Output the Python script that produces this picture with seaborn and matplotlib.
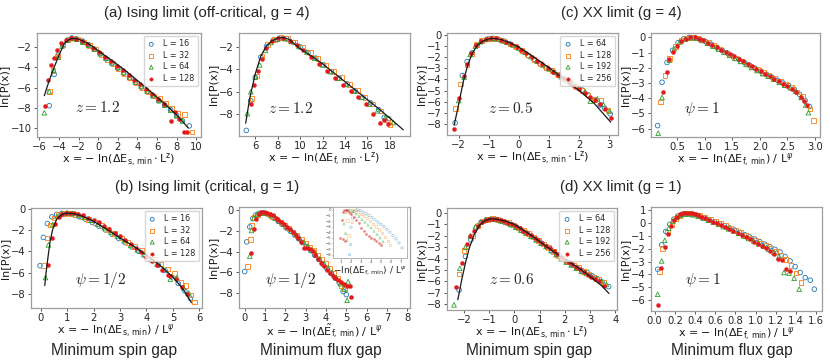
# Distribuciones escaladas ln[P(x)] del gap mínimo (espín y flujo)
# Límite Ising y límite XX, fuera y en el punto crítico.

import numpy as np
import pandas as pd
import matplotlib
matplotlib.use('Agg')
import matplotlib.pyplot as plt
import seaborn as sns


# --- Datos ---
tam_ising = ['16', '32', '64', '128']
tam_xx = ['64', '128', '192', '256']

# (a) Ising, g = 4, gap de espín
a1_x16 = [-5.0, -4.5, -4.1, -3.6, -3.1, -2.7, -2.2, -1.6, -1.0, -0.4, 0.2, 0.8, 1.4, 2.0, 2.6, 3.2, 3.8, 4.4, 5.0, 5.6, 6.2, 6.8, 7.4, 8.0, 8.6, 9.3]
a1_y16 = [-7.8, -4.7, -2.8, -1.8, -1.3, -1.1, -1.2, -1.4, -1.75, -2.2, -2.65, -3.15, -3.6, -4.1, -4.6, -5.1, -5.5, -5.95, -6.4, -6.85, -7.3, -7.75, -8.2, -8.75, -9.3, -9.8]
a1_x32 = [-5.0, -4.6, -4.1, -3.6, -3.1, -2.6, -2.1, -1.5, -0.9, -0.3, 0.3, 0.9, 1.5, 2.1, 2.7, 3.3, 3.9, 4.5, 5.1, 5.7, 6.3, 6.9, 7.5, 8.1, 8.8, 9.6]
a1_y32 = [-6.4, -4.3, -2.9, -1.8, -1.3, -1.1, -1.2, -1.5, -1.85, -2.2, -2.7, -3.2, -3.65, -4.1, -4.6, -5.05, -5.55, -6.0, -6.45, -6.85, -7.1, -7.6, -8.1, -8.6, -8.7, -10.4]
a1_x64 = [-5.5, -5.0, -4.55, -4.1, -3.7, -3.2, -2.7, -2.2, -1.6, -1.0, -0.4, 0.2, 0.8, 1.4, 2.0, 2.6, 3.2, 3.8, 4.4, 5.0, 5.6, 6.2, 6.8, 7.4, 8.0, 8.6]
a1_y64 = [-8.5, -6.4, -4.3, -3.0, -1.9, -1.3, -1.15, -1.2, -1.5, -1.8, -2.2, -2.65, -3.1, -3.55, -4.0, -4.5, -4.95, -5.45, -5.9, -6.35, -6.8, -7.3, -7.75, -8.25, -8.8, -9.3]
a1_x128 = [-5.45, -5.1, -4.8, -4.5, -4.2, -3.8, -3.3, -2.8, -2.3, -1.7, -1.1, -0.5, 0.1, 0.7, 1.3, 1.9, 2.5, 3.1, 3.7, 4.3, 4.9, 5.5, 6.1, 6.7, 7.45, 7.8, 8.3, 8.8, 9.1]
a1_y128 = [-7.8, -5.3, -3.8, -3.1, -2.3, -1.6, -1.25, -1.1, -1.15, -1.4, -1.7, -2.05, -2.5, -2.95, -3.4, -3.85, -4.3, -4.75, -5.25, -5.7, -6.15, -6.65, -7.15, -7.65, -9.3, -8.4, -9.1, -10.4, -10.4]
a1_linea_x = [-5.5, -5.0, -4.5, -4.0, -3.5, -3.0, -2.6, -2.0, -1.0, 0, 1, 2, 3, 4, 5, 6, 7, 8, 9.2]
a1_linea_y = [-6.8, -5.3, -4.0, -2.8, -1.7, -1.25, -1.12, -1.2, -1.65, -2.35, -3.05, -3.75, -4.5, -5.3, -6.1, -6.95, -7.8, -8.7, -10.0]

# (a) Ising, g = 4, gap de flujo
a2_x16 = [5.2, 5.6, 6.0, 6.5, 7.0, 7.6, 8.2, 8.8, 9.4, 10.0, 10.7, 11.4, 12.1, 12.8, 13.5, 14.2, 14.9, 15.6, 16.3, 17.0, 17.5, 17.9]
a2_y16 = [-9.45, -6.8, -4.7, -2.9, -1.95, -1.4, -1.2, -1.25, -1.6, -2.0, -2.5, -3.0, -3.6, -4.2, -4.8, -5.3, -5.9, -6.5, -7.0, -7.6, -8.3, -8.4]
a2_x32 = [5.7, 6.1, 6.6, 7.1, 7.7, 8.3, 8.9, 9.5, 10.2, 10.9, 11.6, 12.3, 13.0, 13.7, 14.4, 15.1, 15.8, 16.5, 17.2, 17.8, 18.0]
a2_y32 = [-6.6, -4.6, -2.8, -1.8, -1.35, -1.15, -1.25, -1.55, -2.0, -2.5, -3.05, -3.6, -4.2, -4.75, -5.35, -5.9, -6.5, -7.1, -7.7, -8.5, -8.95]
a2_x64 = [5.3, 5.6, 6.0, 6.4, 6.9, 7.4, 8.0, 8.6, 9.2, 9.9, 10.6, 11.3, 12.0, 12.7, 13.4, 14.1, 14.8, 15.5, 16.2, 16.9, 17.6, 18.3]
a2_y64 = [-7.95, -6.0, -4.7, -3.6, -2.3, -1.6, -1.3, -1.25, -1.5, -1.95, -2.45, -3.0, -3.6, -4.2, -4.8, -5.35, -5.95, -6.5, -7.1, -7.7, -8.3, -8.75]
a2_x128 = [5.6, 5.9, 6.2, 6.6, 7.0, 7.5, 8.0, 8.5, 9.1, 9.7, 10.3, 11.0, 11.7, 12.4, 13.1, 13.8, 14.5, 15.2, 15.9, 16.5, 17.1, 17.5, 17.8]
a2_y128 = [-7.1, -5.4, -4.1, -3.1, -2.1, -1.5, -1.2, -1.2, -1.45, -1.85, -2.3, -2.85, -3.5, -4.1, -4.75, -5.35, -5.95, -6.45, -7.05, -8.0, -8.8, -8.55, -8.9]
a2_linea_x = [5.15, 5.5, 6.0, 6.5, 7.0, 7.5, 8.0, 8.4, 9.0, 10, 11, 12, 13, 14, 15, 16, 17, 18, 19.2]
a2_linea_y = [-8.8, -6.6, -4.4, -2.8, -1.9, -1.45, -1.2, -1.15, -1.3, -2.15, -2.8, -3.5, -4.3, -5.1, -5.9, -6.7, -7.5, -8.35, -9.4]

# (c) XX, g = 4, gap de espín
c1_x64 = [-2.12, -1.88, -1.72, -1.55, -1.38, -1.2, -1.02, -0.85, -0.68, -0.5, -0.3, -0.1, 0.1, 0.3, 0.5, 0.7, 0.9, 1.1, 1.3, 1.5, 1.7, 1.9, 2.1, 2.3, 2.5, 2.7, 2.85, 3.03]
c1_y64 = [-7.9, -3.65, -2.4, -1.6, -0.95, -0.55, -0.35, -0.3, -0.38, -0.55, -0.8, -1.1, -1.45, -1.85, -2.2, -2.6, -2.95, -3.2, -3.6, -3.95, -4.3, -4.6, -4.95, -5.4, -5.9, -6.3, -6.6, -7.1]
c1_x128 = [-2.1, -1.94, -1.73, -1.57, -1.42, -1.25, -1.05, -0.87, -0.7, -0.5, -0.3, -0.1, 0.1, 0.3, 0.5, 0.7, 0.9, 1.1, 1.3, 1.5, 1.7, 1.9, 2.1, 2.3, 2.5, 2.73, 2.96]
c1_y128 = [-6.6, -4.4, -2.7, -1.7, -0.85, -0.5, -0.35, -0.3, -0.35, -0.55, -0.8, -1.05, -1.4, -1.8, -2.2, -2.55, -2.9, -3.2, -3.55, -3.95, -4.3, -4.65, -5.0, -5.4, -5.8, -5.9, -6.75]
c1_x192 = [-2.0, -1.82, -1.62, -1.45, -1.28, -1.1, -0.92, -0.75, -0.57, -0.4, -0.2, 0.0, 0.2, 0.4, 0.6, 0.8, 1.0, 1.2, 1.4, 1.6, 1.8, 2.0, 2.2, 2.37, 2.6, 2.8, 3.0]
c1_y192 = [-5.9, -3.8, -1.75, -1.0, -0.6, -0.4, -0.3, -0.35, -0.5, -0.65, -0.9, -1.2, -1.55, -1.95, -2.35, -2.7, -3.05, -3.35, -3.75, -4.1, -4.4, -4.75, -5.1, -5.95, -5.75, -6.25, -6.85]
c1_x256 = [-2.15, -2.0, -1.83, -1.73, -1.58, -1.42, -1.25, -1.08, -0.92, -0.75, -0.58, -0.42, -0.25, -0.08, 0.08, 0.25, 0.42, 0.6, 0.78, 0.95, 1.12, 1.3, 1.48, 1.65, 1.82, 2.0, 2.18, 2.35, 2.52, 2.7, 2.86, 3.05]
c1_y256 = [-8.5, -5.65, -3.7, -2.6, -1.6, -0.9, -0.5, -0.35, -0.28, -0.3, -0.45, -0.6, -0.8, -1.05, -1.35, -1.65, -1.95, -2.3, -2.65, -2.95, -3.3, -3.6, -3.9, -4.25, -4.55, -4.9, -5.2, -5.55, -5.85, -6.25, -6.65, -7.5]
c1_linea_x = [-2.15, -2.0, -1.85, -1.7, -1.55, -1.4, -1.2, -1.0, -0.85, -0.6, -0.3, 0, 0.5, 1.0, 1.5, 2.0, 2.5, 3.05]
c1_linea_y = [-8.1, -6.2, -4.2, -2.7, -1.65, -1.0, -0.55, -0.35, -0.3, -0.4, -0.7, -1.1, -2.0, -2.95, -3.95, -5.0, -6.15, -7.85]

# (c) XX, g = 4, gap de flujo
c2_x64 = [0.15, 0.23, 0.32, 0.42, 0.52, 0.62, 0.72, 0.82, 0.92, 1.02, 1.12, 1.22, 1.32, 1.42, 1.52, 1.62, 1.72, 1.82, 1.92, 2.02, 2.12, 2.22, 2.32, 2.42, 2.52, 2.62, 2.72, 2.82, 2.9]
c2_y64 = [-5.8, -2.95, -1.65, -0.85, -0.35, -0.1, 0.0, -0.02, -0.12, -0.28, -0.45, -0.65, -0.85, -1.05, -1.28, -1.45, -1.65, -1.85, -2.05, -2.22, -2.42, -2.62, -2.82, -3.0, -3.15, -3.4, -3.75, -4.15, -4.55]
c2_x128 = [0.2, 0.28, 0.37, 0.47, 0.57, 0.67, 0.77, 0.87, 0.97, 1.07, 1.17, 1.27, 1.37, 1.47, 1.57, 1.67, 1.77, 1.87, 1.97, 2.07, 2.17, 2.27, 2.37, 2.47, 2.57, 2.67, 2.77, 2.91, 2.97]
c2_y128 = [-4.25, -2.5, -1.4, -0.6, -0.2, -0.05, 0.0, -0.05, -0.18, -0.35, -0.55, -0.75, -0.95, -1.15, -1.35, -1.55, -1.75, -1.95, -2.12, -2.3, -2.5, -2.7, -2.9, -3.1, -3.3, -3.6, -3.85, -4.7, -5.45]
c2_x192 = [0.16, 0.23, 0.36, 0.45, 0.55, 0.65, 0.75, 0.85, 0.95, 1.05, 1.15, 1.25, 1.35, 1.45, 1.55, 1.65, 1.75, 1.85, 1.95, 2.05, 2.15, 2.25, 2.35, 2.45, 2.55, 2.65, 2.75, 2.83, 2.88]
c2_y192 = [-6.3, -3.95, -1.5, -0.75, -0.3, -0.1, -0.02, -0.05, -0.2, -0.38, -0.58, -0.78, -0.98, -1.18, -1.38, -1.58, -1.78, -1.98, -2.18, -2.38, -2.55, -2.75, -2.95, -3.15, -3.3, -3.55, -3.95, -4.45, -4.95]
c2_x256 = [0.25, 0.32, 0.36, 0.42, 0.5, 0.58, 0.66, 0.74, 0.82, 0.9, 0.98, 1.06, 1.14, 1.22, 1.3, 1.38, 1.46, 1.54, 1.62, 1.7, 1.78, 1.86, 1.94, 2.02, 2.1, 2.18, 2.26, 2.34, 2.42, 2.5, 2.58, 2.66, 2.74, 2.8, 2.86]
c2_y256 = [-3.6, -2.3, -1.45, -0.98, -0.55, -0.25, -0.08, 0.0, 0.0, -0.08, -0.2, -0.35, -0.5, -0.65, -0.8, -0.95, -1.1, -1.25, -1.42, -1.58, -1.74, -1.9, -2.05, -2.22, -2.38, -2.55, -2.72, -2.88, -3.05, -3.22, -3.4, -3.6, -3.9, -4.15, -4.45]

# (b) Ising, g = 1, gap de espín
b1_x16 = [-0.03, 0.1, 0.25, 0.42, 0.6, 0.8, 1.0, 1.2, 1.45, 1.7, 1.95, 2.2, 2.45, 2.7, 2.95, 3.2, 3.45, 3.7, 3.95, 4.2, 4.45, 4.7, 4.95, 5.2, 5.45, 5.66]
b1_y16 = [-5.35, -2.7, -1.4, -0.78, -0.55, -0.45, -0.45, -0.55, -0.75, -1.0, -1.3, -1.65, -2.0, -2.4, -2.8, -3.2, -3.6, -4.0, -4.4, -4.85, -5.3, -5.8, -6.4, -7.0, -7.7, -8.4]
b1_x32 = [0.11, 0.23, 0.35, 0.5, 0.68, 0.88, 1.08, 1.3, 1.55, 1.8, 2.05, 2.3, 2.55, 2.8, 3.05, 3.3, 3.55, 3.8, 4.05, 4.3, 4.55, 4.8, 5.05, 5.3, 5.5, 5.69, 5.82]
b1_y32 = [-5.35, -2.75, -1.55, -0.9, -0.55, -0.45, -0.45, -0.55, -0.75, -1.0, -1.3, -1.6, -1.95, -2.35, -2.75, -3.15, -3.55, -3.95, -4.35, -4.75, -5.2, -5.65, -6.1, -6.9, -7.2, -8.1, -8.75]
b1_x64 = [0.18, 0.29, 0.45, 0.62, 0.8, 1.0, 1.2, 1.42, 1.65, 1.9, 2.15, 2.4, 2.65, 2.9, 3.15, 3.4, 3.65, 3.9, 4.15, 4.4, 4.65, 4.9, 5.15, 5.4, 5.6]
b1_y64 = [-6.45, -3.4, -1.5, -0.75, -0.5, -0.42, -0.45, -0.6, -0.8, -1.1, -1.45, -1.8, -2.2, -2.6, -3.0, -3.45, -3.85, -4.3, -4.75, -5.2, -5.7, -6.6, -6.45, -7.4, -7.9]
b1_x128 = [0.29, 0.42, 0.54, 0.68, 0.82, 0.96, 1.1, 1.25, 1.4, 1.6, 1.8, 2.0, 2.2, 2.4, 2.6, 2.8, 3.0, 3.2, 3.4, 3.6, 3.8, 4.0, 4.2, 4.4, 4.6, 4.8, 4.9, 5.13, 5.35, 5.55]
b1_y128 = [-5.3, -2.75, -1.45, -0.75, -0.5, -0.4, -0.38, -0.42, -0.5, -0.65, -0.85, -1.05, -1.3, -1.6, -1.9, -2.25, -2.6, -2.95, -3.35, -3.7, -4.1, -4.5, -4.9, -5.3, -5.75, -6.2, -6.35, -6.55, -7.3, -8.0]
b1_linea_x = [0.15, 0.2, 0.27, 0.35, 0.45, 0.6, 0.8, 1.0, 1.3, 1.6, 2.0, 2.5, 3.0, 3.5, 4.0, 4.5, 5.0, 5.4, 5.7]
b1_linea_y = [-7.2, -6.0, -4.6, -3.1, -1.95, -1.0, -0.55, -0.42, -0.5, -0.75, -1.2, -1.95, -2.75, -3.5, -4.35, -5.3, -6.4, -7.6, -8.8]

# (b) Ising, g = 1, gap de flujo
b2_x16 = [0.0, 0.1, 0.25, 0.4, 0.55, 0.7, 0.88, 1.05, 1.25, 1.45, 1.65, 1.85, 2.05, 2.25, 2.45, 2.65, 2.85, 3.05, 3.25, 3.45, 3.65, 3.85, 4.05, 4.25, 4.45, 4.65, 4.84, 5.0]
b2_y16 = [-5.92, -3.05, -1.6, -0.8, -0.45, -0.3, -0.25, -0.3, -0.5, -0.75, -1.05, -1.35, -1.7, -2.0, -2.35, -2.75, -3.1, -3.5, -3.9, -4.35, -4.75, -5.2, -5.65, -6.1, -6.55, -7.0, -7.84, -8.15]
b2_x32 = [0.13, 0.28, 0.33, 0.48, 0.63, 0.8, 0.98, 1.18, 1.38, 1.58, 1.78, 1.98, 2.18, 2.38, 2.58, 2.78, 2.98, 3.18, 3.38, 3.58, 3.78, 3.98, 4.18, 4.38, 4.58, 4.74, 4.9]
b2_y32 = [-5.45, -2.82, -1.45, -0.7, -0.4, -0.25, -0.25, -0.35, -0.6, -0.85, -1.15, -1.45, -1.75, -2.1, -2.45, -2.8, -3.15, -3.55, -3.9, -4.3, -4.7, -5.15, -5.6, -6.05, -6.6, -7.3, -7.55]
b2_x64 = [0.25, 0.33, 0.45, 0.6, 0.75, 0.92, 1.1, 1.3, 1.5, 1.7, 1.9, 2.1, 2.3, 2.5, 2.7, 2.9, 3.1, 3.3, 3.5, 3.7, 3.9, 4.1, 4.3, 4.5, 4.7, 4.9, 5.04, 5.09]
b2_y64 = [-4.42, -1.95, -0.75, -0.4, -0.28, -0.25, -0.3, -0.5, -0.75, -1.05, -1.35, -1.65, -2.0, -2.35, -2.7, -3.1, -3.45, -3.85, -4.25, -4.7, -5.15, -5.55, -6.0, -6.5, -7.1, -7.6, -8.7, -6.9]
b2_x128 = [0.3, 0.44, 0.55, 0.68, 0.82, 0.96, 1.1, 1.24, 1.38, 1.52, 1.66, 1.8, 1.94, 2.08, 2.22, 2.36, 2.5, 2.64, 2.78, 2.92, 3.06, 3.2, 3.34, 3.48, 3.62, 3.76, 3.9, 4.04, 4.18, 4.32, 4.46, 4.6, 4.74, 4.88, 5.02, 5.17, 5.25]
b2_y128 = [-4.1, -1.82, -0.8, -0.35, -0.2, -0.18, -0.22, -0.35, -0.5, -0.7, -0.9, -1.1, -1.35, -1.6, -1.85, -2.1, -2.4, -2.7, -3.05, -3.6, -3.65, -3.75, -3.95, -4.3, -4.7, -5.05, -5.4, -5.75, -6.05, -6.3, -6.55, -6.7, -6.9, -7.1, -7.3, -7.35, -8.38]

# recuadro de (b): datos sin reescalar
in_x16 = [1.85, 1.95, 2.0, 2.15, 2.3, 2.6, 2.9, 3.2, 3.5, 3.8, 4.1, 4.4, 4.7, 5.0, 5.3, 5.6, 5.9, 6.2, 6.5, 6.8, 7.1]
in_y16 = [-8.0, -6.2, -3.1, -1.5, -0.3, 0.0, -0.1, -0.4, -0.7, -1.0, -1.4, -1.8, -2.2, -2.6, -3.0, -3.5, -4.0, -4.6, -5.2, -5.9, -6.8]
in_x32 = [1.65, 1.75, 1.9, 2.1, 2.12, 2.4, 2.7, 3.0, 3.3, 3.6, 3.9, 4.2, 4.5, 4.8, 5.1, 5.4, 5.7, 5.9]
in_y32 = [-1.9, -4.6, -0.6, -0.1, -2.2, 0.0, -0.3, -0.7, -1.1, -1.5, -2.0, -2.5, -3.0, -3.5, -4.1, -4.8, -5.6, -6.3]
in_x64 = [1.3, 1.45, 1.5, 1.6, 1.7, 1.9, 2.2, 2.5, 2.8, 3.1, 3.4, 3.7, 4.0, 4.3, 4.6, 4.9, 5.2]
in_y64 = [-2.5, -4.2, -0.5, -5.4, -0.1, 0.0, -0.3, -0.7, -1.2, -1.7, -2.2, -2.7, -3.2, -3.8, -4.4, -5.0, -5.7]
in_x128 = [0.85, 1.05, 1.16, 1.22, 1.3, 1.4, 1.45, 1.6, 1.8, 2.0, 2.25, 2.5, 2.75, 3.0, 3.25, 3.5, 3.75, 4.0, 4.25, 4.5, 4.75, 4.95]
in_y128 = [-5.1, -1.9, -0.45, -5.2, -0.1, -5.5, 0.0, -0.1, -0.4, -0.8, -1.3, -1.8, -2.4, -3.2, -3.8, -4.3, -4.7, -5.0, -5.2, -5.6, -6.0, -6.3]

# (d) XX, g = 1, gap de espín
d1_x64 = [-2.2, -1.95, -1.73, -1.52, -1.32, -1.12, -0.92, -0.72, -0.52, -0.32, -0.12, 0.08, 0.28, 0.48, 0.68, 0.88, 1.08, 1.28, 1.48, 1.68, 1.88, 2.08, 2.28, 2.48, 2.68, 2.88, 3.08, 3.28, 3.48, 3.74]
d1_y64 = [-6.75, -3.8, -2.35, -1.3, -0.8, -0.6, -0.55, -0.6, -0.72, -0.85, -1.05, -1.25, -1.5, -1.75, -2.05, -2.35, -2.65, -2.95, -3.3, -3.65, -4.0, -4.25, -4.55, -4.8, -5.05, -5.2, -5.5, -5.75, -6.05, -6.45]
d1_x128 = [-2.21, -2.0, -1.67, -1.45, -1.25, -1.05, -0.85, -0.65, -0.45, -0.25, -0.05, 0.15, 0.35, 0.55, 0.75, 0.95, 1.15, 1.35, 1.55, 1.75, 1.95, 2.15, 2.35, 2.55, 2.75, 2.95, 3.15, 3.35, 3.55]
d1_y128 = [-5.35, -3.28, -2.0, -1.1, -0.7, -0.55, -0.5, -0.55, -0.7, -0.85, -1.05, -1.3, -1.55, -1.8, -2.1, -2.4, -2.7, -3.0, -3.35, -3.7, -4.0, -4.3, -4.55, -4.8, -5.1, -5.35, -5.6, -5.85, -6.1]
d1_x192 = [-2.4, -2.17, -1.95, -1.75, -1.55, -1.35, -1.15, -0.95, -0.75, -0.55, -0.35, -0.15, 0.05, 0.25, 0.45, 0.65, 0.85, 1.05, 1.25, 1.45, 1.65, 1.85, 2.05, 2.25, 2.45, 2.65, 2.85, 3.05, 3.25, 3.45, 3.65]
d1_y192 = [-8.05, -4.85, -3.0, -2.0, -1.2, -0.8, -0.6, -0.52, -0.55, -0.68, -0.82, -1.0, -1.25, -1.5, -1.75, -2.05, -2.35, -2.65, -2.95, -3.3, -3.65, -4.0, -4.3, -4.55, -4.85, -5.1, -5.3, -5.5, -5.75, -5.95, -6.25]
d1_x256 = [-2.31, -2.1, -1.9, -1.75, -1.6, -1.45, -1.3, -1.15, -1.0, -0.85, -0.7, -0.55, -0.4, -0.25, -0.1, 0.05, 0.2, 0.35, 0.5, 0.65, 0.8, 0.95, 1.1, 1.25, 1.4, 1.55, 1.7, 1.85, 2.0, 2.15, 2.3, 2.45, 2.6, 2.75, 2.9, 3.05, 3.2, 3.35, 3.56]
d1_y256 = [-6.5, -4.35, -2.7, -2.0, -1.6, -1.1, -0.75, -0.6, -0.52, -0.5, -0.55, -0.62, -0.72, -0.85, -1.0, -1.15, -1.35, -1.55, -1.75, -1.95, -2.2, -2.4, -2.65, -2.9, -3.1, -3.35, -3.6, -3.85, -4.1, -4.3, -4.5, -4.75, -4.95, -5.2, -5.4, -5.6, -5.8, -6.0, -6.4]
d1_linea_x = [-2.25, -2.1, -1.95, -1.8, -1.6, -1.4, -1.2, -1.0, -0.85, -0.6, -0.3, 0, 0.5, 1.0, 1.5, 2.0, 2.5, 3.0, 3.5, 3.75]
d1_linea_y = [-7.6, -5.9, -4.4, -3.1, -1.9, -1.1, -0.7, -0.52, -0.5, -0.58, -0.75, -1.0, -1.7, -2.5, -3.3, -4.05, -4.75, -5.55, -6.45, -7.05]

# (d) XX, g = 1, gap de flujo
d2_x64 = [0.03, 0.07, 0.11, 0.15, 0.19, 0.23, 0.27, 0.31, 0.35, 0.39, 0.44, 0.49, 0.54, 0.59, 0.64, 0.69, 0.74, 0.79, 0.84, 0.89, 0.94, 0.99, 1.04, 1.09, 1.14, 1.19, 1.24, 1.29, 1.34, 1.39, 1.44, 1.49, 1.54, 1.58]
d2_y64 = [-3.6, -1.7, -0.65, -0.1, 0.3, 0.55, 0.68, 0.72, 0.72, 0.65, 0.55, 0.4, 0.25, 0.1, -0.05, -0.2, -0.38, -0.55, -0.72, -0.9, -1.08, -1.25, -1.45, -1.65, -1.85, -2.05, -2.25, -2.6, -2.95, -3.4, -3.85, -4.25, -4.45, -5.15]
d2_x128 = [0.05, 0.08, 0.13, 0.17, 0.21, 0.25, 0.3, 0.35, 0.4, 0.45, 0.5, 0.55, 0.6, 0.65, 0.7, 0.75, 0.8, 0.85, 0.9, 0.95, 1.0, 1.05, 1.1, 1.15, 1.2, 1.25, 1.3, 1.35, 1.4, 1.45]
d2_y128 = [-3.75, -2.0, -0.7, -0.1, 0.35, 0.6, 0.75, 0.78, 0.72, 0.6, 0.45, 0.3, 0.15, -0.02, -0.2, -0.38, -0.55, -0.75, -0.95, -1.15, -1.35, -1.55, -1.75, -1.95, -2.2, -2.5, -2.85, -3.3, -3.9, -4.65]
d2_x192 = [0.03, 0.07, 0.1, 0.14, 0.18, 0.22, 0.26, 0.3, 0.34, 0.38, 0.43, 0.48, 0.53, 0.58, 0.63, 0.68, 0.73, 0.78, 0.83, 0.88, 0.93, 0.98, 1.03, 1.08, 1.13, 1.18, 1.23, 1.28, 1.33, 1.38, 1.43]
d2_y192 = [-5.55, -2.95, -1.35, -0.4, 0.15, 0.45, 0.62, 0.7, 0.7, 0.65, 0.52, 0.38, 0.22, 0.07, -0.1, -0.28, -0.45, -0.62, -0.8, -1.0, -1.2, -1.4, -1.6, -1.8, -2.05, -2.3, -2.6, -3.85, -3.9, -4.3, -5.15]
d2_x256 = [0.03, 0.06, 0.1, 0.13, 0.16, 0.19, 0.22, 0.25, 0.28, 0.31, 0.34, 0.37, 0.4, 0.43, 0.46, 0.5, 0.54, 0.58, 0.62, 0.66, 0.7, 0.74, 0.78, 0.82, 0.86, 0.9, 0.94, 0.98, 1.02, 1.06, 1.1, 1.14, 1.18, 1.22, 1.26, 1.3, 1.34]
d2_y256 = [-6.35, -3.5, -1.9, -0.85, -0.25, 0.25, 0.5, 0.68, 0.78, 0.82, 0.8, 0.75, 0.68, 0.6, 0.5, 0.38, 0.25, 0.12, -0.02, -0.18, -0.32, -0.48, -0.62, -0.78, -0.95, -1.1, -1.28, -1.45, -1.62, -1.8, -1.98, -2.18, -2.4, -2.8, -2.85, -3.55, -3.75]


# --- Estilo ---
sns.set_theme(style='ticks')
plt.rcParams['font.family'] = ['DejaVu Sans']
plt.rcParams['axes.unicode_minus'] = True

COLORES = ['#1f77b4', '#ff7f0e', '#2ca02c', '#e31a1c']
MARCADORES = ['o', 's', '^', 'o']
ABIERTO = [True, True, True, False]

ETQ_S_Z = r'x = $-$ ln($\Delta\mathrm{E}_{\mathrm{s,\,min}}\cdot\mathrm{L}^{\mathrm{z}}$)'
ETQ_F_Z = r'x = $-$ ln($\Delta\mathrm{E}_{\mathrm{f,\,min}}\cdot\mathrm{L}^{\mathrm{z}}$)'
ETQ_S_PSI = r'x = $-$ ln($\Delta\mathrm{E}_{\mathrm{s,\,min}}$) / L$^{\psi}$'
ETQ_F_PSI = r'x = $-$ ln($\Delta\mathrm{E}_{\mathrm{f,\,min}}$) / L$^{\psi}$'
ETQ_FT_PSI = r'x = $-$ ln($\Delta\tilde{\mathrm{E}}_{\mathrm{f,\,min}}$) / L$^{\psi}$'


def series_a_tabla(xs, ys, tamanos):
    """Junta las listas de cada tamaño L en una tabla larga."""
    partes = []
    for x, y, L in zip(xs, ys, tamanos):
        partes.append(pd.DataFrame({'x': x, 'y': y, 'L': L}))
    return pd.concat(partes, ignore_index=True)


def dibujar_puntos(ax, tabla, tamanos, s=11, alpha=1.0, lw=0.6, etiquetas=True):
    for i, L in enumerate(tamanos):
        sub = tabla[tabla['L'] == L]
        c = COLORES[i]
        cara = 'none' if ABIERTO[i] else c
        sns.scatterplot(x=sub['x'], y=sub['y'], ax=ax, marker=MARCADORES[i],
                        s=s if ABIERTO[i] else s * 0.75, color=c, facecolor=cara,
                        edgecolor=c, linewidth=lw if ABIERTO[i] else 0.3, alpha=alpha,
                        label=f'L = {L}' if etiquetas else None, zorder=3)


def panel(ax, tabla, tamanos, xlim, ylim, xticks, yticks, xlabel, texto, pos_texto,
          linea=None, leyenda=False, xfmt=None):
    dibujar_puntos(ax, tabla, tamanos)
    if linea is not None:
        sns.lineplot(x=linea[0], y=linea[1], ax=ax, color='k', lw=0.9,
                     estimator=None, zorder=4)
    ax.set_xlim(*xlim)
    ax.set_ylim(*ylim)
    ax.set_xticks(xticks)
    ax.set_yticks(yticks)
    if xfmt is not None:
        ax.set_xticklabels([xfmt.format(v) for v in xticks])
    ax.set_xlabel(xlabel, fontsize=8, labelpad=-0.5, color='0.1')
    ax.set_ylabel('ln[P(x)]', fontsize=8, labelpad=1, color='0.1')
    ax.tick_params(labelsize=7.2, length=2.5, width=0.6, pad=1.2, colors='0.25',
                   labelcolor='0.15')
    for sp in ax.spines.values():
        sp.set_visible(True)
        sp.set_color('0.62')
        sp.set_linewidth(0.9)
    ax.text(pos_texto[0], pos_texto[1], texto, fontsize=11, math_fontfamily='cm',
            va='center', ha='left')
    if leyenda:
        ax.legend(loc='upper right', fontsize=5.8, frameon=True, handletextpad=1.0,
                  borderpad=0.45, labelspacing=0.3, handlelength=1.0, markerscale=0.85,
                  borderaxespad=0.35, fancybox=True, edgecolor='0.8')
    elif ax.get_legend() is not None:
        ax.get_legend().remove()


def rect(x0, y0, x1, y1):
    """Convierte una caja en píxeles a coordenadas de figura."""
    return [x0 / 830, 1 - y1 / 363, (x1 - x0) / 830, (y1 - y0) / 363]


fig = plt.figure(figsize=(8.3, 3.63), dpi=100)

# fila superior
ax_a1 = fig.add_axes(rect(37, 33, 201, 137))
ax_a2 = fig.add_axes(rect(239, 33, 410, 136))
ax_c1 = fig.add_axes(rect(447, 33, 618, 135))
ax_c2 = fig.add_axes(rect(651, 33, 820, 137))
# fila inferior
ax_b1 = fig.add_axes(rect(31, 208, 202, 308))
ax_b2 = fig.add_axes(rect(239, 207, 410, 308))
ax_d1 = fig.add_axes(rect(447, 208, 617, 310))
ax_d2 = fig.add_axes(rect(651, 207, 822, 311))

t_a1 = series_a_tabla([a1_x16, a1_x32, a1_x64, a1_x128], [a1_y16, a1_y32, a1_y64, a1_y128], tam_ising)
panel(ax_a1, t_a1, tam_ising, (-6.25, 10.5), (-10.9, -0.6), range(-6, 11, 2), range(-10, -1, 2),
      ETQ_S_Z, r'$z = 1.2$', (-2.4, -8.0), linea=(a1_linea_x, a1_linea_y), leyenda=True)

t_a2 = series_a_tabla([a2_x16, a2_x32, a2_x64, a2_x128], [a2_y16, a2_y32, a2_y64, a2_y128], tam_ising)
panel(ax_a2, t_a2, tam_ising, (4.55, 19.8), (-9.95, -0.75), range(6, 19, 2), range(-8, -1, 2),
      ETQ_F_Z, r'$z = 1.2$', (7.1, -7.5), linea=(a2_linea_x, a2_linea_y))

t_c1 = series_a_tabla([c1_x64, c1_x128, c1_x192, c1_x256], [c1_y64, c1_y128, c1_y192, c1_y256], tam_xx)
panel(ax_c1, t_c1, tam_xx, (-2.39, 3.29), (-9.0, 0.18), range(-2, 4), range(-8, 1),
      ETQ_S_Z, r'$z = 0.5$', (-1.02, -6.6), linea=(c1_linea_x, c1_linea_y), leyenda=True)

t_c2 = series_a_tabla([c2_x64, c2_x128, c2_x192, c2_x256], [c2_y64, c2_y128, c2_y192, c2_y256], tam_xx)
panel(ax_c2, t_c2, tam_xx, (0.03, 3.09), (-6.55, 0.29), [0.5, 1.0, 1.5, 2.0, 2.5, 3.0], range(-6, 1),
      ETQ_F_PSI, r'$\psi = 1$', (0.62, -4.68), xfmt='{:.1f}')

t_b1 = series_a_tabla([b1_x16, b1_x32, b1_x64, b1_x128], [b1_y16, b1_y32, b1_y64, b1_y128], tam_ising)
panel(ax_b1, t_b1, tam_ising, (-0.37, 6.1), (-9.3, 0.05), range(0, 7), range(-8, 1, 2),
      ETQ_S_PSI, r'$\psi = 1/2$', (1.3, -6.67), linea=(b1_linea_x, b1_linea_y), leyenda=True)

t_b2 = series_a_tabla([b2_x16, b2_x32, b2_x64, b2_x128], [b2_y16, b2_y32, b2_y64, b2_y128], tam_ising)
panel(ax_b2, t_b2, tam_ising, (-0.28, 8.13), (-9.44, 0.32), range(0, 9), range(-8, 1, 2),
      ETQ_FT_PSI, r'$\psi = 1/2$', (0.98, -6.72))

t_d1 = series_a_tabla([d1_x64, d1_x128, d1_x192, d1_x256], [d1_y64, d1_y128, d1_y192, d1_y256], tam_xx)
panel(ax_d1, t_d1, tam_xx, (-2.68, 4.07), (-8.5, 0.44), range(-2, 5), range(-8, 1),
      ETQ_S_Z, r'$z = 0.6$', (-1.02, -5.87), linea=(d1_linea_x, d1_linea_y), leyenda=True)

t_d2 = series_a_tabla([d2_x64, d2_x128, d2_x192, d2_x256], [d2_y64, d2_y128, d2_y192, d2_y256], tam_xx)
panel(ax_d2, t_d2, tam_xx, (-0.036, 1.656), (-6.85, 1.25), [0.0, 0.2, 0.4, 0.6, 0.8, 1.0, 1.2, 1.4, 1.6],
      range(-6, 2), ETQ_F_PSI, r'$\psi = 1$', (0.3, -4.4), xfmt='{:.1f}')

# --- Recuadro dentro de (b) flujo ---
ax_in = fig.add_axes(rect(333, 207, 407, 258))
t_in = series_a_tabla([in_x16, in_x32, in_x64, in_x128], [in_y16, in_y32, in_y64, in_y128], tam_ising)
dibujar_puntos(ax_in, t_in, tam_ising, s=3, alpha=0.55, lw=0.4, etiquetas=False)
ax_in.set_xlim(0.2, 7.6)
ax_in.set_ylim(-8.6, 0.5)
ax_in.set_xticks(range(1, 8))
ax_in.set_yticks(range(-8, 1))
ax_in.set_xlabel(r'$-$ln($\Delta\mathrm{E}_{\mathrm{f,\,min}}$) / L$^{\psi}$', fontsize=6.5, labelpad=0.5)
ax_in.set_ylabel('')
ax_in.tick_params(labelsize=2.8, length=1, width=0.4, pad=0.5, colors='0.3')
for sp in ax_in.spines.values():
    sp.set_visible(True)
    sp.set_color('0.7')
    sp.set_linewidth(0.7)
if ax_in.get_legend() is not None:
    ax_in.get_legend().remove()

# --- Títulos y rótulos de columna ---
fuente_titulo = ['Liberation Sans', 'DejaVu Sans']
fig.text(207 / 830, 1 - 13 / 363, '(a) Ising limit (off-critical, g = 4)', ha='center', va='center',
         fontsize=10.8, family=fuente_titulo)
fig.text(621 / 830, 1 - 13 / 363, '(c) XX limit (g = 4)', ha='center', va='center',
         fontsize=10.8, family=fuente_titulo)
fig.text(207 / 830, 1 - 187 / 363, '(b) Ising limit (critical, g = 1)', ha='center', va='center',
         fontsize=10.8, family=fuente_titulo)
fig.text(621 / 830, 1 - 187 / 363, '(d) XX limit (g = 1)', ha='center', va='center',
         fontsize=10.8, family=fuente_titulo)
for xc, txt in [(114, 'Minimum spin gap'), (321, 'Minimum flux gap'),
                (529, 'Minimum spin gap'), (732, 'Minimum flux gap')]:
    fig.text(xc / 830, 1 - 351 / 363, txt, ha='center', va='center', fontsize=11.2,
             family=fuente_titulo)

fig.savefig('out.png', dpi=100)
